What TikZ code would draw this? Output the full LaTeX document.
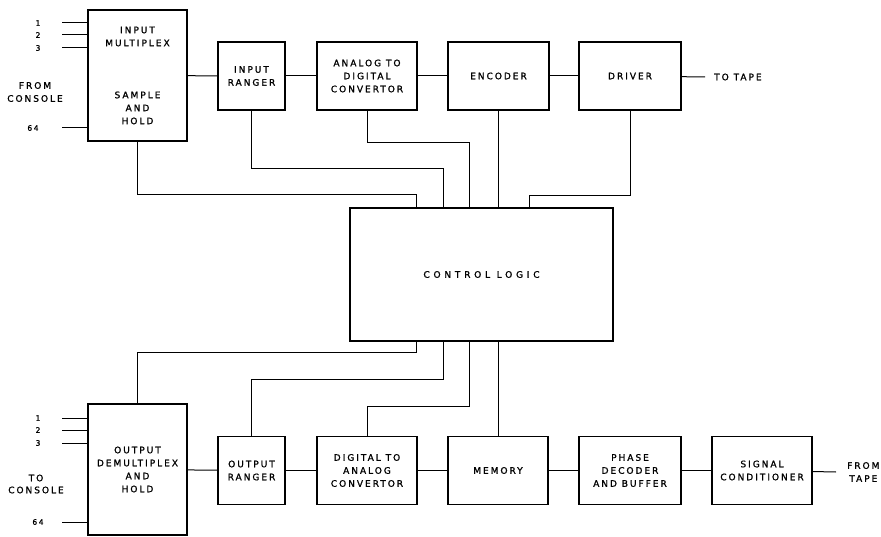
\documentclass[tikz,border=0pt]{standalone}
\usepackage{fontspec}
\setmainfont{DejaVu Sans}[LetterSpace=22,FakeBold=1.2]

\begin{document}
\begin{tikzpicture}[x=1pt,y=-1pt,
	font=\fontsize{9}{13}\selectfont,
	box/.style={rectangle,draw=black,line width=1.2pt,fill=white,align=center,minimum height=68pt,inner sep=1pt},
	wire/.style={line width=1pt},
	txt/.style={align=center,inner sep=1pt},
	num/.style={font=\fontsize{7.5}{8}\selectfont,inner sep=0pt}]
	\useasboundingbox (0,0) rectangle (881,537);
	\def\ty{76}
	\def\by{470.5}
	\def\xa{416}
	\def\xb{443}
	\def\xc{469}
	\node[box,minimum width=99pt,minimum height=131pt] (mux) at (137.5,75.5) {INPUT\\MULTIPLEX\\[39pt]SAMPLE\\AND\\HOLD};
	\node[box,minimum width=67pt] (inrng) at (251.5,\ty) {INPUT\\RANGER};
	\node[box,minimum width=100pt] (adc) at (367,\ty) {ANALOG TO\\DIGITAL\\CONVERTOR};
	\node[box,minimum width=101pt] (enc) at (498.5,\ty) {ENCODER};
	\node[box,minimum width=102pt] (drv) at (630,\ty) {DRIVER};
	\coordinate (tt) at (705,77);
	\node[txt,anchor=west] (totape) at (713,77) {TO TAPE};
	\node[txt] (frcon) at (35,92) {FROM\\CONSOLE};
	\node[num] (n1) at (38,23) {1};
	\node[num] (n2) at (38,35) {2};
	\node[num] (n3) at (38,48) {3};
	\node[num] (n64) at (33,128) {64};
	\coordinate (i1) at (62,23);
	\coordinate (i2) at (62,35);
	\coordinate (i3) at (62,48);
	\coordinate (i64) at (62,128);
	\draw[wire] (i1) -- (i1 -| mux.west);
	\draw[wire] (i2) -- (i2 -| mux.west);
	\draw[wire] (i3) -- (i3 -| mux.west);
	\draw[wire] (i64) -- (i64 -| mux.west);
	\draw[wire] (mux) -- (inrng);
	\draw[wire] (inrng) -- (adc);
	\draw[wire] (adc) -- (enc);
	\draw[wire] (enc) -- (drv);
	\draw[wire] (drv) -- (tt);
%%%%
	\node[box,minimum width=263pt,minimum height=133pt] (ctl) at (481.5,274.5) {\addfontfeature{LetterSpace=42}CONTROL LOGIC};
	\coordinate (t1) at (\xa,208);
	\coordinate (t2) at (\xb,208);
	\coordinate (t3) at (\xc,208);
	\coordinate (t5) at (529,208);
	\draw[wire] (mux.south) -- ++(0,53) -| (t1);
	\draw[wire] (inrng.south) -- ++(0,58) -| (t2);
	\draw[wire] (adc.south) -- ++(0,32) -| (t3);
	\draw[wire] (enc) -- (enc |- ctl.north);
	\draw[wire] (drv.south) -- ++(0,85) -| (t5);
	\coordinate (b1) at (\xa,341);
	\coordinate (b2) at (\xb,341);
	\coordinate (b3) at (\xc,341);
%%%%
	\node[box,minimum width=99pt,minimum height=131pt] (demux) at (137.5,469.5) {OUTPUT\\DEMULTIPLEX\\AND\\HOLD};
	\node[box,minimum width=67pt] (outrng) at (251.5,\by) {OUTPUT\\RANGER};
	\node[box,minimum width=100pt] (dac) at (367,\by) {DIGITAL TO\\ANALOG\\CONVERTOR};
	\node[box,minimum width=100pt] (mem) at (498,\by) {MEMORY};
	\node[box,minimum width=102pt] (phs) at (630,\by) {PHASE\\DECODER\\AND BUFFER};
	\node[box,minimum width=100pt] (sig) at (762,\by) {SIGNAL\\CONDITIONER};
	\coordinate (ft) at (836,472);
	\node[txt,anchor=west] (frtape) at (846,472) {FROM\\TAPE};
	\node[txt,font=\fontsize{9}{12}\selectfont] (tocon) at (36,484) {TO\\CONSOLE};
	\node[num] (m1) at (38,418) {1};
	\node[num] (m2) at (38,430) {2};
	\node[num] (m3) at (38,443) {3};
	\node[num] (m64) at (38,522) {64};
	\coordinate (o1) at (62,418);
	\coordinate (o2) at (62,430);
	\coordinate (o3) at (62,443);
	\coordinate (o64) at (62,522);
	\draw[wire] (o1) -- (o1 -| demux.west);
	\draw[wire] (o2) -- (o2 -| demux.west);
	\draw[wire] (o3) -- (o3 -| demux.west);
	\draw[wire] (o64) -- (o64 -| demux.west);
	\draw[wire] (b1) -- ++(0,12) -| (demux.north);
	\draw[wire] (b2) -- ++(0,38) -| (outrng.north);
	\draw[wire] (b3) -- ++(0,65) -| (dac.north);
	\draw[wire] (mem) -- (mem |- ctl.south);
	\draw[wire] (demux) -- (outrng);
	\draw[wire] (outrng) -- (dac);
	\draw[wire] (dac) -- (mem);
	\draw[wire] (mem) -- (phs);
	\draw[wire] (phs) -- (sig);
	\draw[wire] (sig) -- (ft);
\end{tikzpicture}
\end{document}
